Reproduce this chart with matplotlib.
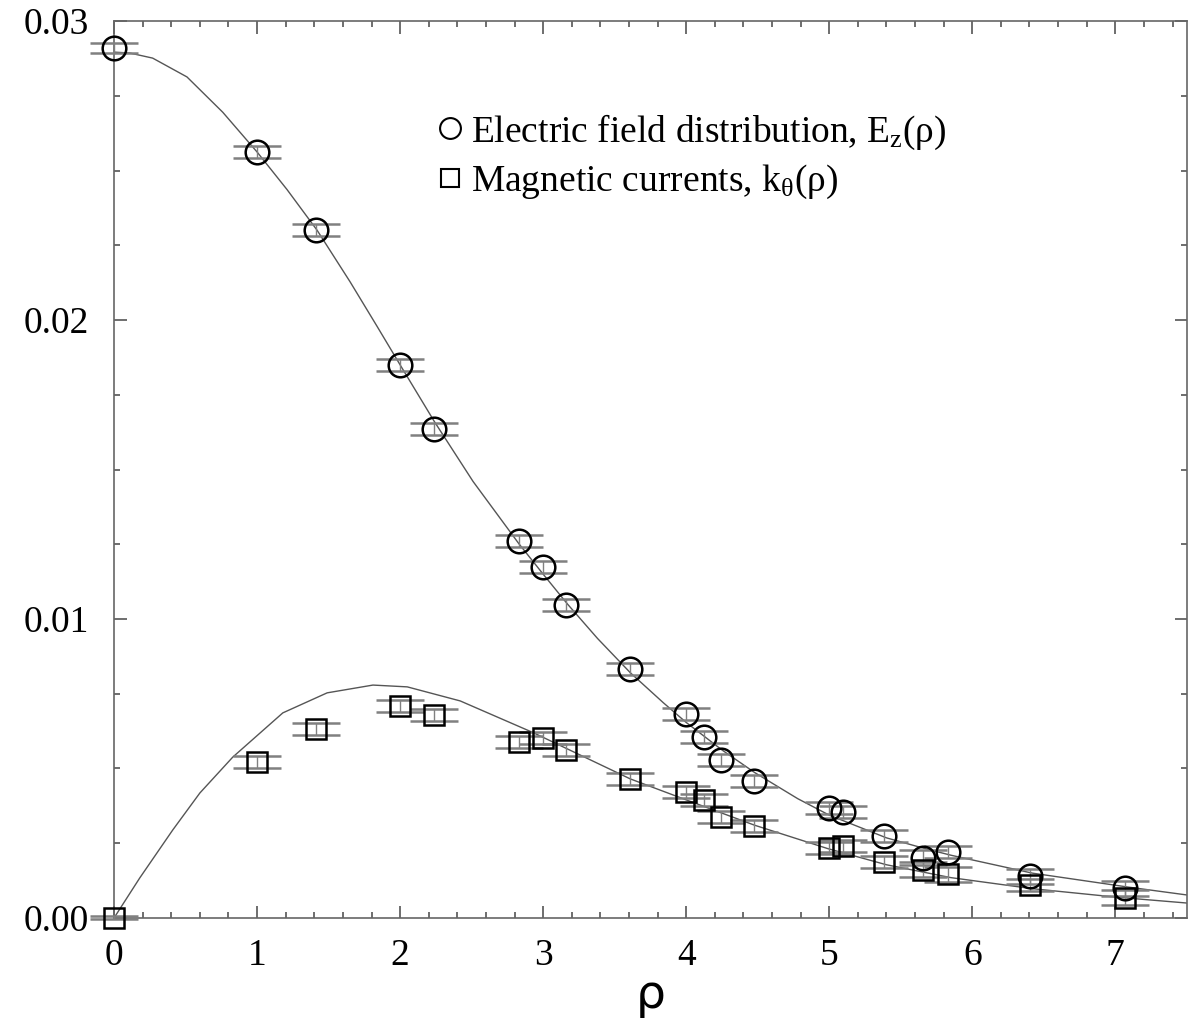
import numpy as np
import matplotlib
matplotlib.use("Agg")
import matplotlib.pyplot as plt
from matplotlib.lines import Line2D
from matplotlib.ticker import MultipleLocator, FormatStrFormatter

#==========================
# DATA
#==========================
# lattice radii rho = sqrt(n)
rho = [0.0, 1.0, 1.414, 2.0, 2.236, 2.828, 3.0, 3.162, 3.606, 4.0,
       4.123, 4.243, 4.472, 5.0, 5.099, 5.385, 5.657, 5.831, 6.403, 7.071]

Ez = [0.0291, 0.02562, 0.0230, 0.01849, 0.01635, 0.01261, 0.01174, 0.01047,
      0.00833, 0.00682, 0.00605, 0.00528, 0.00458, 0.00368, 0.00355, 0.00274,
      0.00201, 0.00221, 0.00140, 0.00100]
Ez_err = [0.00018, 0.0002, 0.0002, 0.0002, 0.0002, 0.0002, 0.0002, 0.0002,
          0.0002, 0.0002, 0.0002, 0.0002, 0.0002, 0.0002, 0.0002, 0.0002,
          0.00025, 0.0002, 0.00025, 0.00025]

k_theta = [0.0, 0.00522, 0.00632, 0.00709, 0.00679, 0.00589, 0.00602, 0.00562,
           0.00465, 0.00421, 0.00395, 0.00338, 0.00308, 0.00234, 0.00241,
           0.00187, 0.00161, 0.00147, 0.00110, 0.00067]
k_err = [0.00005, 0.0002, 0.0002, 0.0002, 0.0002, 0.0002, 0.0002, 0.0002,
         0.0002, 0.0002, 0.0002, 0.0002, 0.0002, 0.0002, 0.0002, 0.0002,
         0.00025, 0.00025, 0.0002, 0.00025]

# fitted curves
rho_fitE = [0.0, 0.11, 0.27, 0.51, 0.76, 1.0, 1.21, 1.42, 1.65, 1.84, 2.0,
            2.24, 2.51, 2.83, 3.0, 3.17, 3.38, 3.61, 3.84, 4.0, 4.25, 4.48,
            4.78, 5.0, 5.4, 5.67, 5.85, 6.42, 7.08, 7.5]
Ez_fit = [0.02896, 0.02893, 0.02876, 0.02813, 0.02695, 0.02562, 0.02436,
          0.0230, 0.02128, 0.01978, 0.0185, 0.0166, 0.0146, 0.01252, 0.0115,
          0.0105, 0.00935, 0.0082, 0.0072, 0.00654, 0.00562, 0.00486, 0.00399,
          0.00344, 0.00268, 0.00232, 0.0021, 0.0015, 0.00104, 0.00077]

rho_fitK = [0.0, 0.18, 0.41, 0.60, 0.83, 1.18, 1.49, 1.81, 2.05, 2.42, 2.93,
            3.61, 4.0, 4.48, 4.99, 5.4, 5.85, 6.42, 7.0, 7.5]
k_fit = [0.0, 0.00134, 0.00294, 0.00418, 0.00538, 0.00686, 0.00753, 0.00779,
         0.00773, 0.00726, 0.0062, 0.00465, 0.00395, 0.0031, 0.00232, 0.00178,
         0.00135, 0.00098, 0.0007, 0.0005]

#==========================
# STYLE
#==========================
plt.rcParams['font.family'] = ['Liberation Serif', 'DejaVu Serif']
plt.rcParams['mathtext.fontset'] = 'custom'
plt.rcParams['mathtext.rm'] = 'Liberation Serif'

fig = plt.figure(figsize=(11.94, 10.21), dpi=100)
ax = fig.add_axes([0.0955, 0.1009, 0.8985, 0.8785])

ax.plot(rho_fitE, Ez_fit, color='#555555', lw=1.0, zorder=1)
ax.plot(rho_fitK, k_fit, color='#555555', lw=1.0, zorder=1)

ax.errorbar(rho, Ez, yerr=Ez_err, fmt='o', ms=17, mfc='none', mec='black',
            mew=1.8, ecolor='#808080', elinewidth=1.0, capsize=17,
            capthick=1.3, clip_on=False, zorder=3)
ax.errorbar(rho, k_theta, yerr=k_err, fmt='s', ms=14.5, mfc='none', mec='black',
            mew=1.8, ecolor='#808080', elinewidth=1.0, capsize=17,
            capthick=1.3, clip_on=False, zorder=3)

ax.set_xlim(0, 7.5)
ax.set_ylim(0, 0.03)
ax.xaxis.set_major_locator(MultipleLocator(1))
ax.xaxis.set_minor_locator(MultipleLocator(0.2))
ax.yaxis.set_major_locator(MultipleLocator(0.01))
ax.yaxis.set_minor_locator(MultipleLocator(0.0025))
ax.yaxis.set_major_formatter(FormatStrFormatter('%.2f'))

ax.tick_params(which='both', direction='in', top=True, right=True,
               color='#555555', width=1.2, labelsize=27)
ax.tick_params(which='major', length=9)
ax.tick_params(which='minor', length=4.5)
ax.tick_params(axis='y', pad=18)
ax.tick_params(axis='x', pad=15)
for s in ax.spines.values():
    s.set_color('#666666')
    s.set_linewidth(1.2)

ax.set_xlabel('ρ', fontsize=34, family='DejaVu Sans', labelpad=0)

handles = [Line2D([], [], ls='none', marker='o', ms=15, mfc='none', mec='black', mew=1.5),
           Line2D([], [], ls='none', marker='s', ms=13, mfc='none', mec='black', mew=1.5)]
labels = [r'Electric field distribution, $\mathregular{E_z}$(ρ)',
          r'Magnetic currents, $\mathregular{k_θ}$(ρ)']
ax.legend(handles, labels, loc='upper left', bbox_to_anchor=(0.282, 0.919),
          frameon=False, fontsize=27, handlelength=0.8, handletextpad=0.15,
          labelspacing=0.3, borderpad=0)

fig.savefig('out.png', dpi=100)
